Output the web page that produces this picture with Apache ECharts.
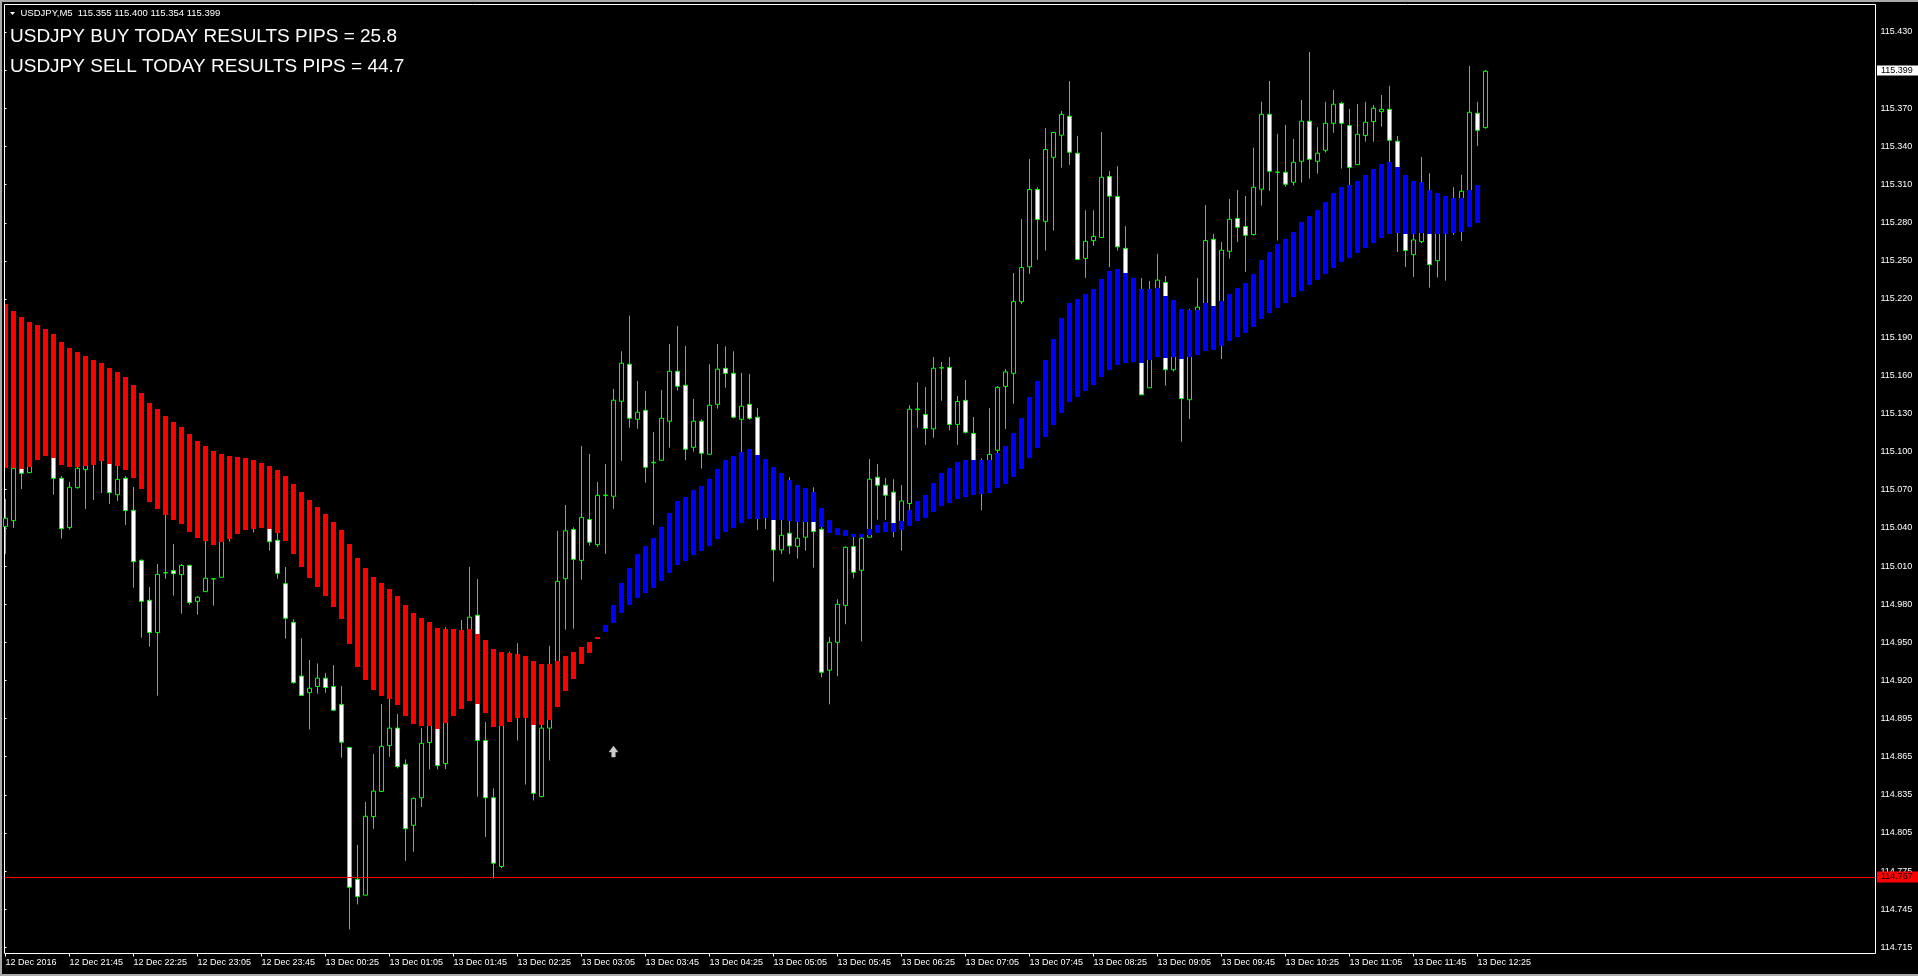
<!DOCTYPE html>
<html><head><meta charset="utf-8">
<script src="https://cdn.jsdelivr.net/npm/echarts@6/dist/echarts.min.js"></script>
<style>html,body{margin:0;padding:0;background:#000;overflow:hidden}#c{width:1918px;height:976px}</style>
</head><body><div id="c"></div><script>
// ---- data (USDJPY M5, bars 0..185, 12 Dec 21:05 .. 13 Dec 12:30) ----
const xTickLabels=['12 Dec 2016','12 Dec 21:45','12 Dec 22:25','12 Dec 23:05','12 Dec 23:45','13 Dec 00:25','13 Dec 01:05','13 Dec 01:45','13 Dec 02:25','13 Dec 03:05','13 Dec 03:45','13 Dec 04:25','13 Dec 05:05','13 Dec 05:45','13 Dec 06:25','13 Dec 07:05','13 Dec 07:45','13 Dec 08:25','13 Dec 09:05','13 Dec 09:45','13 Dec 10:25','13 Dec 11:05','13 Dec 11:45','13 Dec 12:25'];
const yTickValues=[115.4300,115.4002,115.3704,115.3406,115.3108,115.2810,115.2513,115.2215,115.1917,115.1619,115.1321,115.1023,115.0725,115.0427,115.0129,114.9831,114.9534,114.9236,114.8938,114.8640,114.8342,114.8044,114.7746,114.7448,114.7150];
const yTickLabels=['115.430','','115.370','115.340','115.310','115.280','115.250','115.220','115.190','115.160','115.130','115.100','115.070','115.040','115.010','114.980','114.950','114.920','114.895','114.865','114.835','114.805','114.775','114.745','114.715'];
const open=[115.0437,115.0483,115.0918,115.0858,115.0980,115.1000,115.1009,115.0814,115.0429,115.0741,
115.0882,115.0970,115.1009,115.0970,115.0686,115.0814,115.0564,115.0174,114.9861,114.9609,
115.0077,115.0093,115.0062,115.0134,114.9853,114.9929,115.0028,115.0041,115.0400,115.0450,
115.0550,115.0580,115.0500,115.0450,115.0330,114.9991,114.9689,114.9269,114.9140,114.9188,
114.9253,114.9188,114.9048,114.8712,114.7682,114.7558,114.8172,114.8368,114.8726,114.8863,
114.8580,114.8104,114.8319,114.8750,114.8879,114.8586,114.9000,114.9250,114.9430,114.9745,
114.8766,114.8319,114.7782,114.9050,114.9050,114.9150,114.8919,114.8328,114.8863,114.9242,
115.0030,115.0415,115.0173,115.0493,115.0296,115.0679,115.0674,115.1416,115.1705,115.1275,
115.1345,115.0935,115.0955,115.1260,115.1650,115.1541,115.1056,115.1260,115.1002,115.1392,
115.1673,115.1634,115.1275,115.1392,115.1291,115.0750,115.0593,115.0255,115.0385,115.0283,
115.0354,115.0502,115.0416,114.9315,114.9533,114.9822,115.0281,115.0096,115.0354,115.0822,
115.0760,115.0706,115.0469,115.0617,115.1350,115.1313,115.1200,115.1676,115.1680,115.1235,
115.1423,115.1165,115.0800,115.0800,115.1033,115.1532,115.1634,115.2194,115.2466,115.3070,
115.2821,115.3321,115.3494,115.3642,115.3353,115.2532,115.2671,115.2694,115.3171,115.3015,
115.2610,115.2300,115.2150,115.1521,115.1900,115.2344,115.1662,115.1900,115.1428,115.1950,
115.2000,115.2681,115.1895,115.2587,115.2843,115.2780,115.2718,115.3072,115.3657,115.3204,
115.3204,115.3126,115.3290,115.3603,115.3290,115.3376,115.3587,115.3743,115.3569,115.3264,
115.3491,115.3600,115.3678,115.3696,115.3447,115.3000,115.2561,115.2663,115.2950,115.2514,
115.2850,115.2850,115.2850,115.2936,115.3665,115.3553];
const high=[115.0653,115.0918,115.0944,115.0957,115.1080,115.1080,115.1035,115.0832,115.0785,115.0910,
115.0944,115.0996,115.1035,115.0996,115.0910,115.0832,115.0746,115.0180,114.9965,115.0145,
115.0541,115.0301,115.0145,115.0140,114.9895,115.0332,115.0033,115.0384,115.0500,115.0600,
115.0660,115.0650,115.0620,115.0463,115.0387,115.0121,114.9713,114.9565,114.9395,114.9368,
114.9293,114.9355,114.9191,114.8712,114.7951,114.8287,114.8661,114.9051,114.9094,114.8973,
114.8618,114.8322,114.8865,114.8919,114.8892,114.9651,114.9350,114.9707,115.0122,115.0027,
114.8911,114.8392,114.9000,114.9460,114.9525,114.9250,114.9000,114.8892,114.9506,115.0404,
115.0606,115.0431,115.1066,115.1004,115.0786,115.0926,115.1512,115.1806,115.2085,115.1575,
115.1496,115.1176,115.1504,115.1864,115.2004,115.1848,115.1434,115.1275,115.1705,115.1864,
115.1845,115.1806,115.1637,115.1629,115.1364,115.0800,115.0645,115.0489,115.0822,115.0473,
115.0515,115.0744,115.0434,114.9575,114.9869,115.0283,115.0356,115.0356,115.0965,115.0926,
115.0817,115.0807,115.0761,115.1385,115.1564,115.1527,115.1761,115.1723,115.1761,115.1457,
115.1582,115.1293,115.0969,115.1362,115.1535,115.1668,115.2417,115.2838,115.3307,115.3087,
115.3549,115.3515,115.3682,115.3916,115.3489,115.2908,115.2908,115.3518,115.3214,115.3252,
115.2784,115.2360,115.2379,115.2356,115.2567,115.2394,115.2000,115.2000,115.2136,115.2379,
115.2948,115.2723,115.2660,115.2996,115.3066,115.3020,115.3397,115.3756,115.3918,115.3504,
115.3574,115.3465,115.3769,115.4144,115.3556,115.3754,115.3847,115.3754,115.3699,115.3738,
115.3754,115.3730,115.3808,115.3879,115.3488,115.3050,115.2750,115.3324,115.3197,115.2950,
115.2980,115.3087,115.3184,115.4035,115.3754,115.4004];
const low=[115.0223,115.0426,115.0731,115.0853,115.0960,115.0990,115.0686,115.0343,115.0413,115.0733,
115.0575,115.0645,115.0700,115.0614,115.0637,115.0450,114.9960,114.9569,114.9499,114.9116,
115.0030,114.9898,114.9757,114.9827,114.9749,114.9929,114.9819,115.0041,115.0320,115.0400,
115.0450,115.0390,115.0450,115.0249,115.0030,114.9562,114.9210,114.9113,114.8852,114.9132,
114.9140,114.8995,114.8632,114.7290,114.7486,114.7558,114.8077,114.8368,114.8640,114.8548,
114.7827,114.7897,114.8247,114.8540,114.8540,114.8543,114.8970,114.9200,114.9296,114.8328,
114.8013,114.7687,114.7768,114.9000,114.8766,114.8422,114.8298,114.8322,114.8610,114.9161,
114.9632,114.9640,115.0022,115.0288,115.0277,115.0224,115.0577,115.0952,115.1210,115.1202,
115.0780,115.0452,115.0955,115.1054,115.1499,115.0955,115.1023,115.0890,115.1002,115.1358,
115.1522,115.1283,115.1010,115.1270,115.0411,115.0419,115.0007,115.0223,115.0223,115.0187,
115.0249,115.0117,114.9260,114.9049,114.9268,114.9674,115.0033,114.9539,115.0354,115.0491,
115.0489,115.0354,115.0249,115.0564,115.1209,115.1076,115.1131,115.1420,115.1189,115.1076,
115.1163,115.0900,115.0564,115.0750,115.1012,115.1200,115.1397,115.2174,115.2411,115.2521,
115.2593,115.2749,115.3240,115.3263,115.2518,115.2379,115.2630,115.2694,115.2463,115.2593,
115.2250,115.2000,115.1466,115.1521,115.1850,115.1538,115.1648,115.1099,115.1278,115.1900,
115.1900,115.1850,115.1746,115.2530,115.2660,115.2426,115.2710,115.2944,115.3059,115.2671,
115.3092,115.3100,115.3124,115.3155,115.3194,115.3358,115.3514,115.3233,115.3105,115.3264,
115.3444,115.3444,115.3561,115.3285,115.2582,115.2465,115.2387,115.2650,115.2304,115.2382,
115.2358,115.2715,115.2668,115.2900,115.3410,115.3545];
const close=[115.0502,115.0892,115.0853,115.0918,115.1020,115.1040,115.0814,115.0421,115.0744,115.0892,
115.0931,115.0931,115.0970,115.0702,115.0806,115.0562,115.0163,114.9853,114.9609,115.0064,
115.0075,115.0069,115.0134,114.9843,114.9885,115.0033,115.0030,115.0358,115.0450,115.0550,
115.0600,115.0500,115.0550,115.0319,115.0072,114.9721,114.9218,114.9118,114.9175,114.9253,
114.9180,114.9003,114.8753,114.7620,114.7548,114.8174,114.8371,114.8720,114.8863,114.8562,
114.8077,114.8314,114.8744,114.8892,114.8570,114.8919,114.9300,114.9550,114.9729,114.8766,
114.8319,114.7808,114.8946,114.9150,114.9200,114.9050,114.8354,114.8863,114.8946,115.0009,
115.0404,115.0181,115.0509,115.0315,115.0681,115.0683,115.1424,115.1713,115.1283,115.1330,
115.0900,115.0939,115.1283,115.1650,115.1533,115.1041,115.1260,115.1010,115.1385,115.1666,
115.1634,115.1291,115.1377,115.1283,115.0593,115.0580,115.0255,115.0369,115.0286,115.0346,
115.0489,115.0398,114.9299,114.9533,114.9830,115.0275,115.0080,115.0346,115.0807,115.0760,
115.0682,115.0440,115.0637,115.1353,115.1356,115.1203,115.1674,115.1678,115.1235,115.1414,
115.1174,115.0932,115.0850,115.1001,115.1524,115.1645,115.2194,115.2460,115.3070,115.2836,
115.3382,115.3515,115.3656,115.3361,115.2524,115.2665,115.2703,115.3165,115.3018,115.2622,
115.2300,115.2200,115.1466,115.1900,115.2362,115.1662,115.1900,115.1437,115.1850,115.2151,
115.2671,115.1895,115.2595,115.2837,115.2775,115.2712,115.3087,115.3657,115.3212,115.3206,
115.3111,115.3282,115.3603,115.3306,115.3353,115.3587,115.3736,115.3587,115.3243,115.3501,
115.3595,115.3704,115.3696,115.3454,115.3000,115.2593,115.2676,115.2900,115.2483,115.2850,
115.2900,115.2800,115.3056,115.3673,115.3532,115.3993];
// down-trend band (bars 0..74)
const redStart=0;
const redTop=[115.2176,115.2121,115.2074,115.2035,115.2012,115.1980,115.1941,115.1879,115.1832,115.1801,
115.1770,115.1738,115.1715,115.1676,115.1645,115.1605,115.1543,115.1481,115.1402,115.1356,
115.1301,115.1254,115.1215,115.1160,115.1106,115.1067,115.1028,115.1004,115.0988,115.0981,
115.0973,115.0957,115.0934,115.0910,115.0879,115.0832,115.0770,115.0708,115.0646,115.0590,
115.0536,115.0474,115.0409,115.0302,115.0191,115.0113,115.0044,114.9998,114.9949,114.9896,
114.9826,114.9761,114.9724,114.9691,114.9645,114.9637,114.9637,114.9629,114.9637,114.9597,
114.9551,114.9481,114.9457,114.9449,114.9441,114.9428,114.9387,114.9363,114.9363,114.9387,
114.9428,114.9457,114.9498,114.9535,114.9575];
const redBot=[115.0897,115.0897,115.0887,115.0903,115.0957,115.0988,115.0975,115.0918,115.0903,115.0903,
115.0910,115.0918,115.0949,115.0929,115.0910,115.0879,115.0817,115.0731,115.0629,115.0575,
115.0528,115.0489,115.0457,115.0395,115.0348,115.0325,115.0293,115.0317,115.0340,115.0379,
115.0410,115.0418,115.0426,115.0418,115.0387,115.0325,115.0224,115.0122,115.0035,114.9966,
114.9896,114.9810,114.9718,114.9519,114.9342,114.9239,114.9161,114.9113,114.9094,114.9043,
114.8957,114.8895,114.8879,114.8879,114.8857,114.8903,114.8957,114.9013,114.9075,114.9051,
114.8981,114.8871,114.8879,114.8911,114.8943,114.8943,114.8887,114.8887,114.8927,114.9027,
114.9153,114.9247,114.9363,114.9449,114.9559];
// up-trend band (bars 75..184)
const blueStart=75;
const blueTop=[114.9669,114.9825,114.9997,115.0114,115.0223,115.0286,115.0348,115.0434,115.0544,115.0637,
115.0668,115.0723,115.0754,115.0809,115.0887,115.0958,115.0989,115.1020,115.1043,115.0997,
115.0965,115.0903,115.0856,115.0801,115.0762,115.0739,115.0708,115.0583,115.0489,115.0426,
115.0411,115.0379,115.0379,115.0418,115.0450,115.0473,115.0465,115.0483,115.0564,115.0637,
115.0683,115.0775,115.0853,115.0894,115.0940,115.0957,115.0957,115.0957,115.0957,115.1012,
115.1064,115.1168,115.1284,115.1449,115.1573,115.1738,115.1902,115.2067,115.2183,115.2214,
115.2252,115.2292,115.2370,115.2434,115.2448,115.2417,115.2379,115.2292,115.2292,115.2301,
115.2237,115.2206,115.2136,115.2128,115.2129,115.2181,115.2160,115.2199,115.2254,115.2301,
115.2340,115.2410,115.2520,115.2582,115.2645,115.2684,115.2738,115.2816,115.2863,115.2910,
115.2973,115.3043,115.3090,115.3105,115.3137,115.3183,115.3230,115.3270,115.3285,115.3246,
115.3183,115.3137,115.3129,115.3066,115.3043,115.3020,115.3004,115.3004,115.3066,115.3105];
const blueBot=[114.9617,114.9684,114.9762,114.9825,114.9882,114.9919,114.9960,115.0012,115.0075,115.0137,
115.0169,115.0216,115.0247,115.0286,115.0340,115.0395,115.0426,115.0465,115.0497,115.0497,
115.0505,115.0489,115.0489,115.0481,115.0473,115.0473,115.0473,115.0434,115.0387,115.0372,
115.0364,115.0356,115.0356,115.0372,115.0387,115.0395,115.0395,115.0411,115.0440,115.0483,
115.0507,115.0553,115.0599,115.0622,115.0651,115.0668,115.0686,115.0691,115.0697,115.0738,
115.0773,115.0824,115.0888,115.0975,115.1050,115.1137,115.1229,115.1327,115.1408,115.1449,
115.1495,115.1541,115.1605,115.1662,115.1697,115.1714,115.1726,115.1714,115.1738,115.1761,
115.1755,115.1761,115.1749,115.1761,115.1778,115.1809,115.1819,115.1851,115.1887,115.1918,
115.1949,115.1996,115.2059,115.2106,115.2147,115.2184,115.2231,115.2278,115.2324,115.2366,
115.2413,115.2460,115.2507,115.2538,115.2574,115.2616,115.2652,115.2694,115.2725,115.2731,
115.2725,115.2725,115.2731,115.2725,115.2725,115.2725,115.2731,115.2741,115.2777,115.2809];
const buyArrow=[[76,114.868]];
const hLineValue=114.7672, hLineLabel='114.767';
const lastPrice=115.399, lastPriceLabel='115.399';
const headerText='USDJPY,M5  115.355 115.400 115.354 115.399';
const titleBuy='USDJPY BUY TODAY RESULTS PIPS = 25.8';
const titleSell='USDJPY SELL TODAY RESULTS PIPS = 44.7';

// ---- build ----
const YMIN=114.71025, YMAX=115.45148;
const SLOTS=234;
const categories=[]; for(let i=0;i<SLOTS;i++) categories.push(String(i));
const candles=open.map((o,i)=>[o,close[i],low[i],high[i]]);
const FONT='"Liberation Sans", Arial, sans-serif';

function band(tops,bots,start,color){
  return {type:'custom',xAxisIndex:0,yAxisIndex:0,z:3,clip:true,silent:true,animation:false,
    data:tops.map((t,k)=>[start+k,t,bots[k]]),
    encode:{x:0,y:[1,2]},
    renderItem:function(params,api){
      const i=api.value(0);
      const a=api.coord([i,api.value(1)]), b=api.coord([i,api.value(2)]);
      const y0=Math.round(a[1]); const y1=Math.max(Math.round(b[1]),y0+1);
      return {type:'rect',shape:{x:a[0]-2.5,y:y0,width:5,height:y1-y0},style:{fill:color}};
    }};
}
function yFmt(v){let best=0,d=1e9;for(let k=0;k<yTickValues.length;k++){const dd=Math.abs(yTickValues[k]-v);if(dd<d){d=dd;best=k;}}return yTickLabels[best];}

const chart=echarts.init(document.getElementById('c'),null,{renderer:'canvas',width:1918,height:976});
chart.setOption({
  animation:false,
  backgroundColor:'#000',
  grid:[
    {left:5.5,top:4.5,width:1864,height:949,show:false,containLabel:false,outerBoundsMode:'none'},
    {left:4.5,top:4.5,width:1871,height:949,show:true,borderColor:'#ffffff',borderWidth:1,backgroundColor:'transparent',containLabel:false,outerBoundsMode:'none'}
  ],
  xAxis:[
    {type:'category',gridIndex:0,data:categories,boundaryGap:false,
      axisLine:{show:false},splitLine:{show:false},
      axisTick:{show:true,length:3,interval:function(i){return i%8===0&&i/8<xTickLabels.length;},lineStyle:{color:'#ffffff',width:1}},
      axisLabel:{show:true,interval:function(i){return i%8===0&&i/8<xTickLabels.length;},align:'left',margin:5,
        color:'#ffffff',fontSize:9,fontFamily:FONT,
        formatter:function(v,i){const k=Number(v)/8;return (Number(v)%8===0&&k<xTickLabels.length)?xTickLabels[k]:'';}}},
    {type:'value',gridIndex:1,min:0,max:1,show:false}
  ],
  yAxis:[
    {type:'value',gridIndex:0,min:YMIN,max:YMAX,show:false,scale:true},
    {type:'value',gridIndex:1,min:YMIN,max:YMAX,position:'right',scale:true,
      axisLine:{show:false},splitLine:{show:false},
      axisTick:{show:true,length:2,customValues:yTickValues,lineStyle:{color:'#ffffff'}},
      axisLabel:{show:true,customValues:yTickValues,margin:5,color:'#ffffff',fontSize:9,fontFamily:FONT,formatter:yFmt}}
  ],
  series:[
    {type:'scatter',xAxisIndex:1,yAxisIndex:1,data:[[0.5,YMIN]],symbolSize:0,silent:true,z:1,
      markLine:{silent:true,symbol:['none','none'],animation:false,
        data:[
          {yAxis:hLineValue,lineStyle:{color:'#ff0000',width:1,type:'solid'},
            label:{show:true,position:'end',distance:1.5,formatter:hLineLabel,color:'#000000',backgroundColor:'#ff0000',
              padding:[1,10,0,4],fontSize:9,fontFamily:FONT,lineHeight:10}}
        ]}},
    {type:'scatter',xAxisIndex:1,yAxisIndex:1,data:[[0.5,YMIN]],symbolSize:0,silent:true,z:5,
      markLine:{silent:true,symbol:['none','none'],animation:false,
        data:[
          {yAxis:lastPrice,lineStyle:{color:'rgba(0,0,0,0)',width:1,type:'solid'},
            label:{show:true,position:'end',distance:1.5,formatter:lastPriceLabel,color:'#000000',backgroundColor:'#ffffff',
              padding:[0,10,0,4],fontSize:9,fontFamily:FONT,lineHeight:10}}
        ]}},
    {type:'candlestick',xAxisIndex:0,yAxisIndex:0,data:candles,barWidth:5,z:2,silent:true,clip:true,
      itemStyle:{color:'#000000',color0:'#ffffff',borderColor:'#00ff00',borderColor0:'#00ff00',borderColorDoji:'#00ff00',borderWidth:1},
      emphasis:{disabled:true}},
    band(redTop,redBot,redStart,'#ff0000'),
    band(blueTop,blueBot,blueStart,'#0000ff'),
    {type:'scatter',xAxisIndex:0,yAxisIndex:0,data:buyArrow,z:4,silent:true,
      symbol:'path://M5,0 L10,6 L7,6 L7,11 L3,11 L3,6 L0,6 Z',symbolSize:[9,11],
      itemStyle:{color:'#ffffff',borderColor:'#cfcfcf',borderWidth:0.5}}
  ],
  graphic:[
    {type:'rect',shape:{x:0,y:0,width:1918,height:2},style:{fill:'#a9a9a9'},silent:true},
    {type:'rect',shape:{x:0,y:0,width:2,height:976},style:{fill:'#a9a9a9'},silent:true},
    {type:'rect',shape:{x:0,y:974,width:1918,height:2},style:{fill:'#a9a9a9'},silent:true},
    {type:'polygon',shape:{points:[[10,12],[15,12],[12.5,15]]},style:{fill:'#ffffff'},silent:true},
    {type:'text',x:20.5,y:13.5,silent:true,style:{text:headerText,fill:'#ffffff',font:'9.5px '+FONT,verticalAlign:'middle',align:'left'}},
    {type:'text',x:10,y:36.5,silent:true,style:{text:titleBuy,fill:'#ffffff',font:'19px '+FONT,verticalAlign:'middle',align:'left'}},
    {type:'text',x:10,y:66.8,silent:true,style:{text:titleSell,fill:'#ffffff',font:'19px '+FONT,verticalAlign:'middle',align:'left'}}
  ]
});
</script></body></html>
